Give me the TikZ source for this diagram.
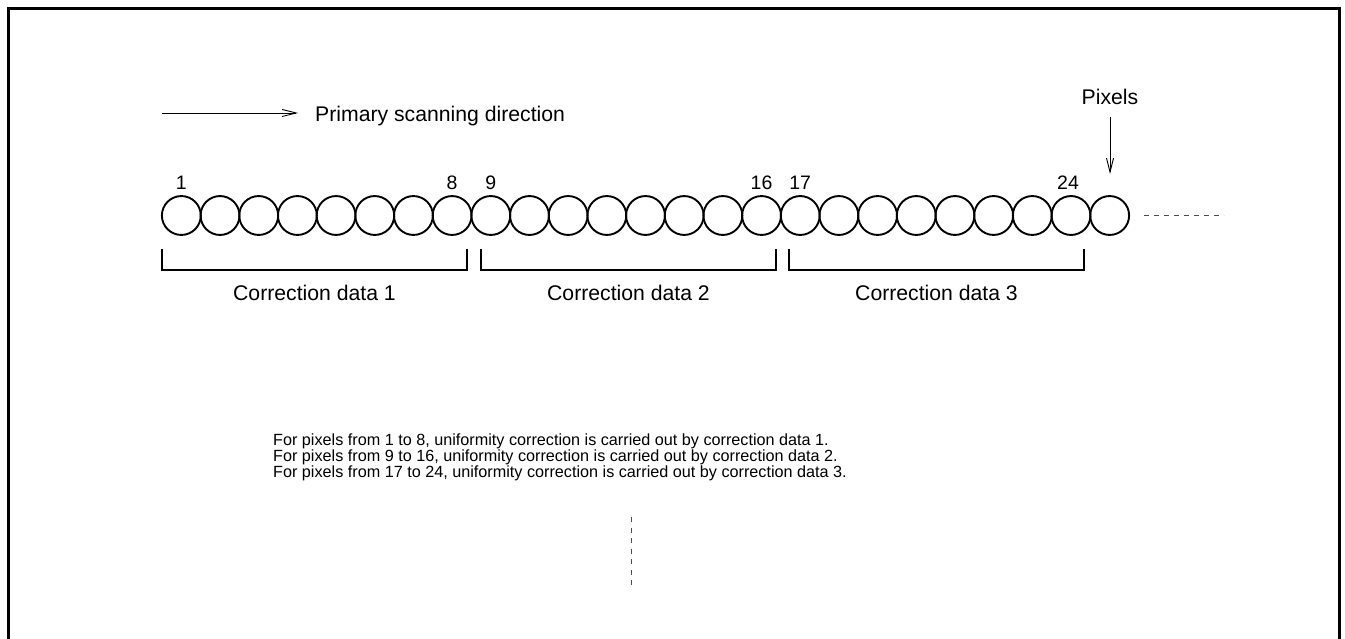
\documentclass[tikz,border=0pt]{standalone}
\usepackage{fontspec}
\setmainfont{Liberation Sans}
\usetikzlibrary{arrows.meta}
\begin{document}
\begin{tikzpicture}[x=1pt,y=-1pt,
  lbl/.style={inner sep=0pt,font=\fontsize{21.2}{24}\selectfont},
  num/.style={inner sep=0pt,font=\fontsize{19.5}{24}\selectfont},
  body/.style={inner sep=0pt,anchor=base west,font=\fontsize{16.2}{16}\selectfont},
  pix/.style={draw,circle,minimum size=38.9pt,inner sep=0pt,line width=1.9pt},
  brk/.style={line width=1.9pt},
  thinarrow/.style={line width=0.9pt,-{Straight Barb[length=14pt,width=7pt]}},
  dashline/.style={line width=1.1pt,draw=black!70,dash pattern=on 5pt off 5pt}]
\useasboundingbox (0,0) rectangle (1345,639);
% frame
\draw[line width=2.6pt] (8.5,645) -- (8.5,8.7) -- (1339.5,8.7) -- (1339.5,645);
% primary scanning direction
\coordinate (psA) at (162,113);
\node[lbl,anchor=base west] (ps) at (315,121.5) {Primary scanning direction};
\draw[thinarrow] (psA) -- (298,113);
% circles
\foreach \i in {1,...,25}{
  \node[pix] (c\i) at ({181.35+(\i-1)*38.68},215.5) {};
}
% numbers
\foreach \i in {1,8,9,16,17}{
  \node[num,anchor=base] (n\i) at ({181.35+(\i-1)*38.68},189.5) {\i};
}
\node[num,anchor=base] (n24) at (1068,189.5) {24};
% pixels label and arrow
\node[lbl,anchor=base] (pixlbl) at (1110,105) {Pixels};
\coordinate (pixtip) at (1110,174);
\draw[thinarrow] (1110,117) -- (pixtip);
% dashed continuation
\coordinate (dA) at (1144,215.5);
\coordinate (dB) at (1224,215.5);
\draw[dashline] (dA) -- (dB);
% brackets
\draw[brk] (162,249) -- (162,270) -- (467,270) -- (467,249);
\draw[brk] (481,249) -- (481,270) -- (776,270) -- (776,249);
\draw[brk] (789,249) -- (789,270) -- (1084,270) -- (1084,249);
\node[lbl,anchor=base] (cd1) at (314.5,300.5) {Correction data 1};
\node[lbl,anchor=base] (cd2) at (628.5,300.5) {Correction data 2};
\node[lbl,anchor=base] (cd3) at (936.5,300.5) {Correction data 3};
% body text
\node[body] (t1) at (273,445) {For pixels from 1 to 8, uniformity correction is carried out by correction data 1.};
\node[body] (t2) at (273,461) {For pixels from 9 to 16, uniformity correction is carried out by correction data 2.};
\node[body] (t3) at (273,477) {For pixels from 17 to 24, uniformity correction is carried out by correction data 3.};
% vertical dashed
\coordinate (vA) at (631,517);
\coordinate (vB) at (631,585);
\draw[dashline,line width=1pt,dash pattern=on 5pt off 5.5pt] (vA) -- (vB);
\end{tikzpicture}
\end{document}
